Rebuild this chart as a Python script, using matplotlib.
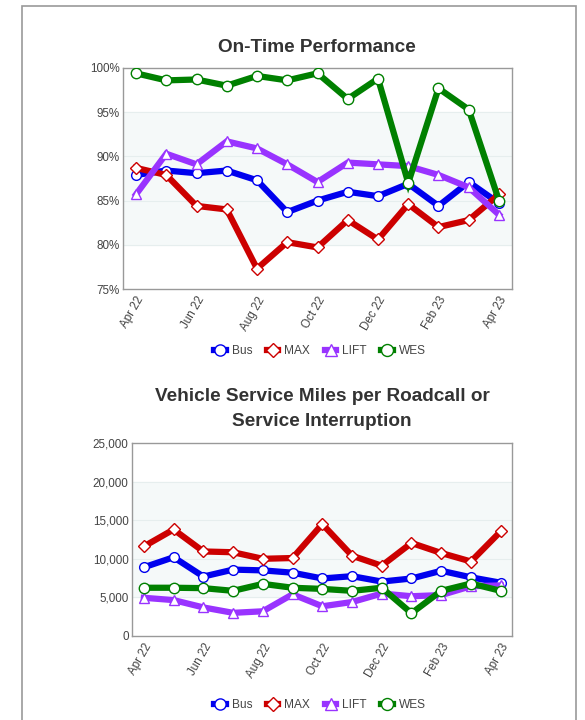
import matplotlib
matplotlib.use("Agg")
import matplotlib.pyplot as plt
from matplotlib.patches import Rectangle
from matplotlib.ticker import FuncFormatter

plt.rcParams['font.family'] = ['Liberation Sans', 'DejaVu Sans']

months = ['Apr 22', 'May 22', 'Jun 22', 'Jul 22', 'Aug 22', 'Sep 22', 'Oct 22',
          'Nov 22', 'Dec 22', 'Jan 23', 'Feb 23', 'Mar 23', 'Apr 23']
series = ['Bus', 'MAX', 'LIFT', 'WES']

# on-time performance (%)
otp_bus = [87.9, 88.4, 88.1, 88.4, 87.3, 83.7, 85.0, 86.0, 85.5, 86.9, 84.4, 87.1, 84.7]
otp_max = [88.7, 87.9, 84.4, 84.0, 77.3, 80.3, 79.7, 82.8, 80.6, 84.6, 82.0, 82.8, 85.7]
otp_lift = [85.7, 90.3, 89.1, 91.7, 90.9, 89.1, 87.1, 89.3, 89.1, 88.9, 87.9, 86.5, 83.4]
otp_wes = [99.4, 98.6, 98.7, 98.0, 99.1, 98.6, 99.4, 96.5, 98.8, 87.0, 97.7, 95.3, 85.0]

# vehicle service miles per roadcall
vsm_bus = [8900, 10200, 7700, 8600, 8500, 8200, 7450, 7750, 7050, 7450, 8450, 7600, 6900]
vsm_max = [11600, 13800, 10950, 10850, 10000, 10100, 14500, 10400, 9100, 12050, 10750, 9650, 13550]
vsm_lift = [4950, 4650, 3700, 3000, 3200, 5400, 3850, 4400, 5500, 5150, 5300, 6450, 6550]
vsm_wes = [6250, 6250, 6200, 5850, 6750, 6250, 6100, 5850, 6250, 2950, 5850, 6800, 5850]

colors = ['#0000ee', '#cc0000', '#9933ff', '#008000']
markers = ['o', 'D', '^', 'o']
msizes = [7, 6, 7.5, 7.5]

fig = plt.figure(figsize=(5.85, 7.2), dpi=100)
fig.patches.append(Rectangle((22 / 585, -0.01), 554 / 585, 1 - 6 / 720 + 0.01,
                             transform=fig.transFigure, fill=False,
                             edgecolor='#999999', linewidth=1.2))

x = list(range(len(months)))


def draw(ax, data, ylim, yticks, fmt, band):
    ax.axhspan(band[0], band[1], color='#f5f9f9', zorder=0)
    for v in yticks[1:-1]:
        ax.axhline(v, color='#e6eeee', linewidth=0.8, zorder=1)
    for vals, c, m, ms, name in zip(data, colors, markers, msizes, series):
        ax.plot(x, vals, color=c, linewidth=4.5, marker=m, markersize=ms,
                markerfacecolor='white', markeredgecolor=c, markeredgewidth=1,
                label=name, zorder=3, solid_joinstyle='miter')
    ax.set_ylim(*ylim)
    ax.set_yticks(yticks)
    ax.yaxis.set_major_formatter(FuncFormatter(fmt))
    ax.set_xticks(x[::2])
    ax.set_xticklabels(months[::2], rotation=60, ha='right', va='top',
                       rotation_mode='anchor')
    ax.tick_params(length=0, labelsize=8.4, colors='#444444')
    ax.tick_params(axis='y', pad=2.5)
    ax.tick_params(axis='x', pad=4)
    for s in ax.spines.values():
        s.set_color('#999999')
        s.set_linewidth(1)


def legend(ax, ypix):
    fig.legend(*ax.get_legend_handles_labels(), loc='center',
               bbox_to_anchor=(320 / 585, 1 - ypix / 720), ncol=4, frameon=False,
               fontsize=8.6, handlelength=1.0, handletextpad=0.5, columnspacing=1.2,
               markerscale=1.15, labelcolor='#444444')


ax1 = fig.add_axes([123 / 585, 1 - 289 / 720, 389 / 585, 221 / 720])
draw(ax1, [otp_bus, otp_max, otp_lift, otp_wes], (75, 100),
     [75, 80, 85, 90, 95, 100], lambda v, p: f'{v:.0f}%', (80, 95))
ax1.set_xlim(-0.43, 12.43)
fig.text(317 / 585, 1 - 47.5 / 720, 'On-Time Performance', ha='center', va='center',
         fontsize=13.7, fontweight='bold', color='#333333')
legend(ax1, 351)

ax2 = fig.add_axes([132 / 585, 1 - 636 / 720, 380 / 585, 193 / 720])
draw(ax2, [vsm_bus, vsm_max, vsm_lift, vsm_wes], (0, 25000),
     [0, 5000, 10000, 15000, 20000, 25000], lambda v, p: f'{v:,.0f}', (5000, 20000))
ax2.set_xlim(-0.40, 12.38)
fig.text(322 / 585, 1 - 409 / 720,
         'Vehicle Service Miles per Roadcall or\nService Interruption',
         ha='center', va='center', fontsize=13.7, fontweight='bold',
         color='#333333', linespacing=1.65)
legend(ax2, 705)

fig.savefig('out.png', dpi=100)
